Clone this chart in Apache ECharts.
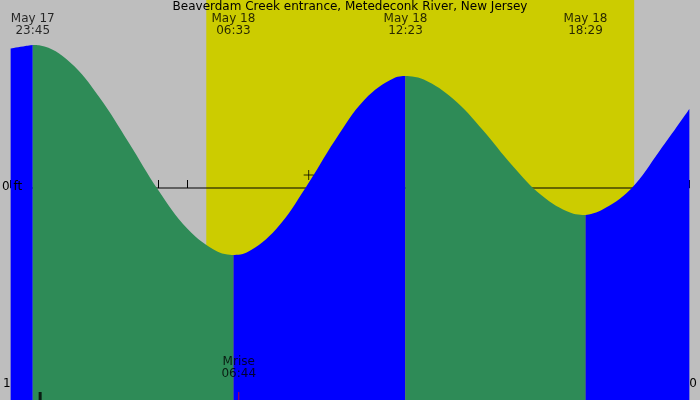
<!DOCTYPE html>
<html><head><meta charset="utf-8">
<script src="https://cdn.jsdelivr.net/npm/echarts@6/dist/echarts.min.js"></script>
<style>html,body{margin:0;padding:0;background:#bebebe}#c{width:700px;height:400px}</style>
</head><body><div id="c"></div>
<script>
// Tide heights (ft), hours relative to May 18 00:00
const seg1 = [[-1,2.79],[-0.5,2.84],[-0.25,2.86]];                       // rising (blue)
const seg2 = [[-0.25,2.86],[0,2.85],[1,2.52],[2,1.82],[3,0.91],[4,-0.04],[5,-0.82],[6,-1.27],[6.55,-1.34]]; // falling
const seg3 = [[6.55,-1.34],[7,-1.29],[8,-0.82],[9,0.01],[10,0.96],[11,1.77],[12,2.20],[12.38,2.24]];      // rising
const seg4 = [[12.38,2.24],[13,2.17],[14,1.78],[15,1.16],[16,0.45],[17,-0.15],[18,-0.50],[18.48,-0.54]]; // falling
const seg5 = [[18.48,-0.54],[19,-0.45],[20,-0.03],[21,0.75],[22,1.58]];  // rising
const extremes = [[-0.25,'May 17','23:45'],[6.55,'May 18','06:33'],[12.38,'May 18','12:23'],[18.48,'May 18','18:29']];
const daylight = [5.63, 20.13];
const moonrise = [6.73, 'Mrise', '06:44'];
const title = 'Beaverdam Creek entrance, Metedeconk River, New Jersey';

const BLUE='#0000ff', GREEN='#2e8b57';
const font='DejaVu Sans';
function area(data,color){return {type:'line',data,smooth:0.4,symbol:'none',lineStyle:{width:0},
  areaStyle:{color,opacity:1,origin:'start'},z:3,silent:true};}
const chart=echarts.init(document.getElementById('c'));
chart.setOption({
  animation:false,
  backgroundColor:'#bebebe',
  grid:{left:-0.77,top:0,width:707.25,height:400,containLabel:false},
  xAxis:{type:'value',min:-1,max:22,interval:1,axisLine:{show:false},splitLine:{show:false},
    axisTick:{inside:true,length:8,lineStyle:{color:'#000'}},
    axisLabel:{inside:true,margin:10,color:'#000',fontFamily:font,fontSize:12,
      formatter:v=>{let h=((v%12)+12)%12; if(h===0)h=12; return (h<10?'0':'')+h;}}},
  yAxis:{type:'value',min:-4.24,max:3.76,show:false},
  series:[
    {type:'line',data:[[-1,0],[22,0]],symbol:'none',lineStyle:{color:'#000',width:1},z:2,
      markArea:{silent:true,itemStyle:{color:'#cccc00'},data:[[{xAxis:daylight[0]},{xAxis:daylight[1]}]]}},
    area(seg1,BLUE),area(seg2,GREEN),area(seg3,BLUE),area(seg4,GREEN),area(seg5,BLUE),
    {type:'scatter',z:5,symbol:'path://M0,5L10,5M5,0L5,10',symbolSize:10,
      itemStyle:{color:'none',borderColor:'#000',borderWidth:1},data:[[9.1,0.26]]},
    {type:'scatter',z:6,symbolSize:0,data:extremes.map(e=>({value:[e[0],3.26],name:e[1]+'\n'+e[2]})),
      label:{show:true,position:'inside',formatter:p=>p.name,color:'#000',fontFamily:font,fontSize:12,lineHeight:12}},
    {type:'scatter',z:6,symbolSize:0,data:[{value:[moonrise[0],-3.6],name:moonrise[1]+'\n'+moonrise[2]}],
      label:{show:true,position:'inside',formatter:p=>p.name,color:'#000',fontFamily:font,fontSize:12,lineHeight:12}},
    {type:'scatter',z:6,symbol:'rect',symbolSize:[1,8],itemStyle:{color:'#ff0000'},
      symbolOffset:[0,0],data:[[moonrise[0],-4.16]]},
    {type:'scatter',z:6,symbol:'rect',symbolSize:[3,8],itemStyle:{color:'#000'},data:[[0,-4.16]]}
  ],
  graphic:[
    {type:'text',left:'center',top:1,z:10,style:{text:title,font:'12px "DejaVu Sans"',fill:'#000'}},
    {type:'text',left:2,top:181,z:10,style:{text:'0 ft',font:'12px "DejaVu Sans"',fill:'#000'}}
  ]
});
</script></body></html>
